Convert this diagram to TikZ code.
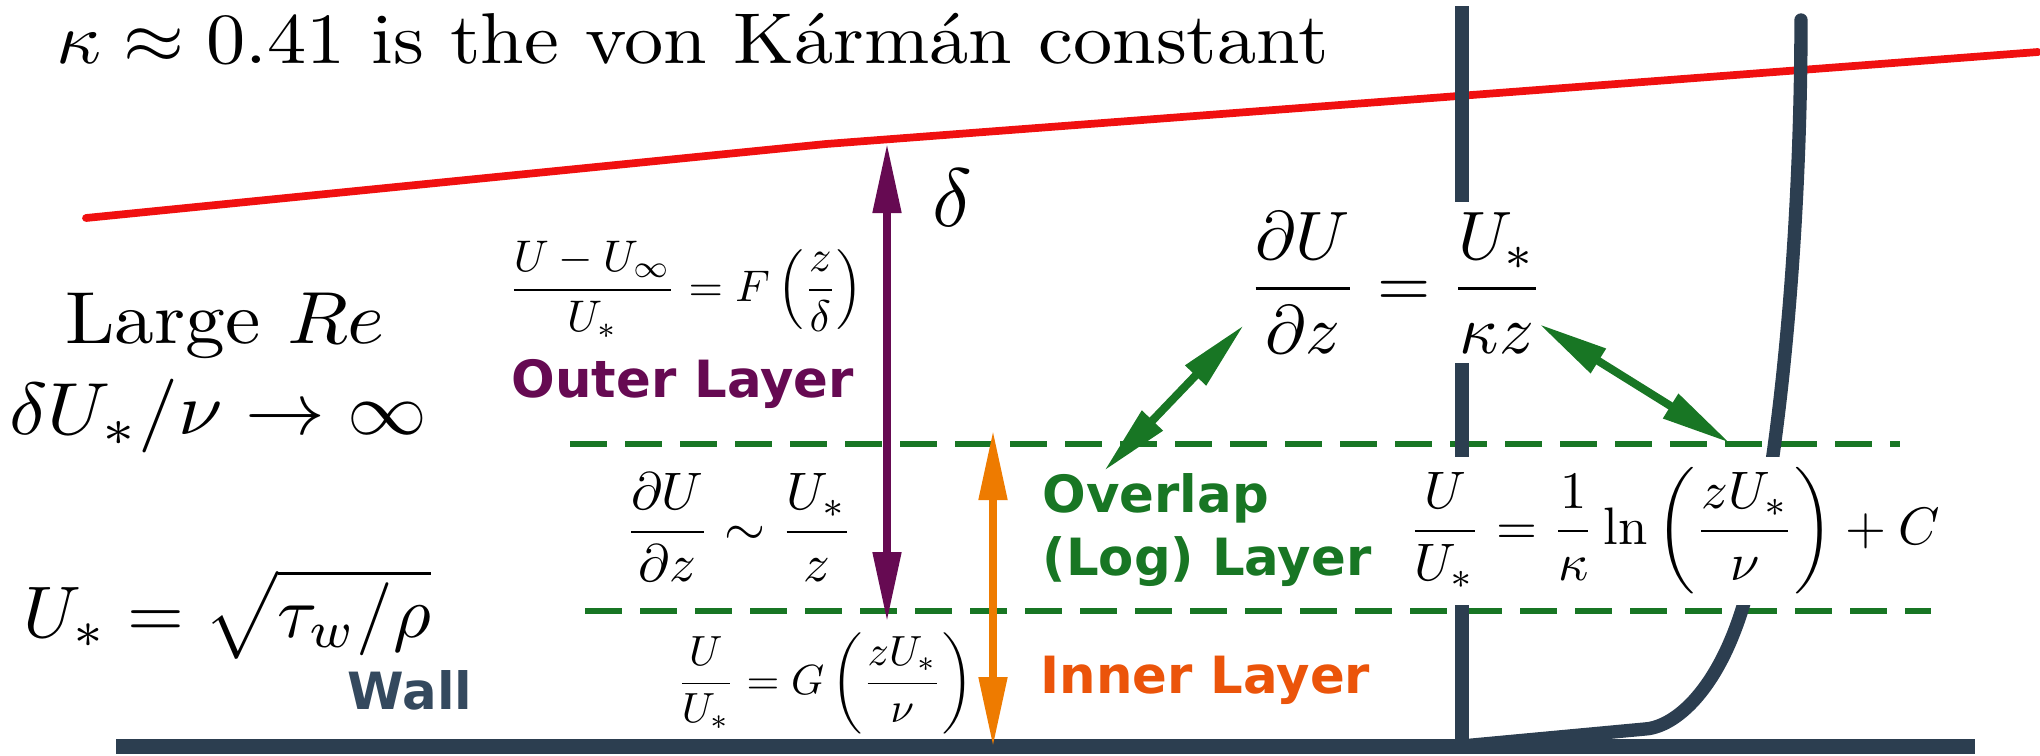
\documentclass[tikz,border=0pt]{standalone}
\usepackage{amsmath}
\usepackage{fontspec}
\usepackage{tikz}
\usetikzlibrary{arrows.meta}
\newfontfamily\labelfont{DejaVu Sans}
\definecolor{edgered}{RGB}{240, 16, 16}
\definecolor{outerpurple}{RGB}{102, 10, 82}
\definecolor{overlapgreen}{RGB}{24, 118, 36}
\definecolor{innerorange}{RGB}{238, 123, 0}
\definecolor{innertext}{RGB}{235, 84, 10}
\definecolor{wallslate}{RGB}{44, 62, 80}
\definecolor{walltext}{RGB}{52, 73, 94}

\begin{document}
\begin{tikzpicture}[
    eqn/.style={inner sep=0pt},
    mask/.style={fill=white, inner sep=1.5pt},
    layertext/.style={inner sep=0pt, anchor=base west, font=\fontsize{14.6pt}{17.9pt}\selectfont\labelfont\bfseries},
    layerarrow/.style={{Triangle[length=7mm, width=2.7mm]}-{Triangle[length=7mm, width=2.7mm]}, line width=2.3pt},
    profile/.style={wallslate, line width=3.8pt},
    wallline/.style={wallslate, line width=4.3pt},
    sublayer/.style={overlapgreen, line width=1.5pt, dash pattern=on 3.67mm off 1.83mm}
]
    \useasboundingbox (0,0) rectangle (20.40,-7.56);

    % --- BOUNDARY LAYER EDGE AND LAYER LIMITS ---
    \draw[edgered, line width=2.2pt, line cap=round] (0.86,-2.18) -- (8.26,-1.44) -- (20.38,-0.52);
    \draw[sublayer] (5.70,-4.44) -- (19.00,-4.44);
    \draw[sublayer] (5.85,-6.11) -- (19.31,-6.11);

    % --- VELOCITY PROFILES AND WALL ---
    \draw[profile] (14.62,-0.06) -- (14.62,-7.46);
    \draw[profile, line cap=round, line join=round] (14.62,-7.46) -- (16.45,-7.29)
        .. controls (16.75,-7.27) and (17.20,-6.90) .. (17.46,-5.96)
        .. controls (17.77,-4.83) and (18.01,-2.50) .. (18.01,-0.20);
    \draw[wallline] (1.16,-7.465) -- (19.75,-7.465);

    % --- HEADER AND FLOW REGIME ---
    \node[eqn, anchor=base west, xscale=2.23, yscale=2.05] (karman) at (0.55,-0.63) {$\kappa \approx 0.41$ is the von K\'arm\'an constant};
    \node[eqn, anchor=base, xscale=2.26, yscale=2.1] (largere) at (2.25,-3.43) {Large $Re$};
    \node[eqn, anchor=base, xscale=2.27, yscale=2.1] (relimit) at (2.18,-4.34) {$\delta U_*/\nu \to \infty$};
    \node[eqn, anchor=base west, scale=2.08] (ustar) at (0.22,-6.37) {$U_* = \sqrt{\tau_w/\rho}$};
    \node[eqn, anchor=base, scale=2.35] (deltalbl) at (9.52,-2.26) {$\delta$};

    % --- LAYER FORMULAS ---
    \node[eqn, anchor=base, scale=1.26] (outereq) at (6.86,-3.01) {$\displaystyle\frac{U-U_\infty}{U_*} = F\left(\frac{z}{\delta}\right)$};
    \node[eqn, anchor=base, scale=1.5] (overlapeq) at (7.39,-5.45) {$\displaystyle\frac{\partial U}{\partial z} \sim \frac{U_*}{z}$};
    \node[eqn, anchor=base, scale=1.2] (innereq) at (8.25,-6.94) {$\displaystyle\frac{U}{U_*} = G\left(\frac{zU_*}{\nu}\right)$};
    \node[mask, anchor=base, scale=1.95] (loglaw) at (13.96,-3.06) {$\displaystyle\frac{\partial U}{\partial z} = \frac{U_*}{\kappa z}$};
    \node[mask, anchor=base, scale=1.5, inner sep=2pt] (logprofile) at (16.74,-5.44) {$\displaystyle\frac{U}{U_*} = \frac{1}{\kappa}\ln\left(\frac{zU_*}{\nu}\right) + C$};

    % --- LAYER NAMES ---
    \node[layertext, outerpurple] (outerlbl) at (5.11,-3.97) {Outer Layer};
    \node[layertext, overlapgreen] (overlaplbl) at (10.42,-5.12) {Overlap};
    \node[layertext, overlapgreen] (loglbl) at (10.42,-5.75) {(Log) Layer};
    \node[layertext, innertext] (innerlbl) at (10.40,-6.93) {Inner Layer};
    \node[layertext, walltext] (walllbl) at (3.47,-7.09) {Wall};

    % --- LAYER EXTENTS ---
    \coordinate (deltatop) at (8.87,-1.43);
    \coordinate (deltabot) at (8.87,-6.22);
    \coordinate (innertop) at (9.93,-4.30);
    \coordinate (innerbot) at (9.93,-7.47);
    \coordinate (gradleft) at (12.44,-3.25);
    \coordinate (overlapleft) at (11.04,-4.71);
    \coordinate (gradright) at (15.39,-3.24);
    \coordinate (overlapright) at (17.30,-4.43);

    \draw[layerarrow, outerpurple] (deltatop) -- (deltabot);
    \draw[layerarrow, innerorange] (innertop) -- (innerbot);
    \draw[layerarrow, overlapgreen] (gradleft) -- (overlapleft);
    \draw[layerarrow, overlapgreen] (gradright) -- (overlapright);

\end{tikzpicture}
\end{document}
